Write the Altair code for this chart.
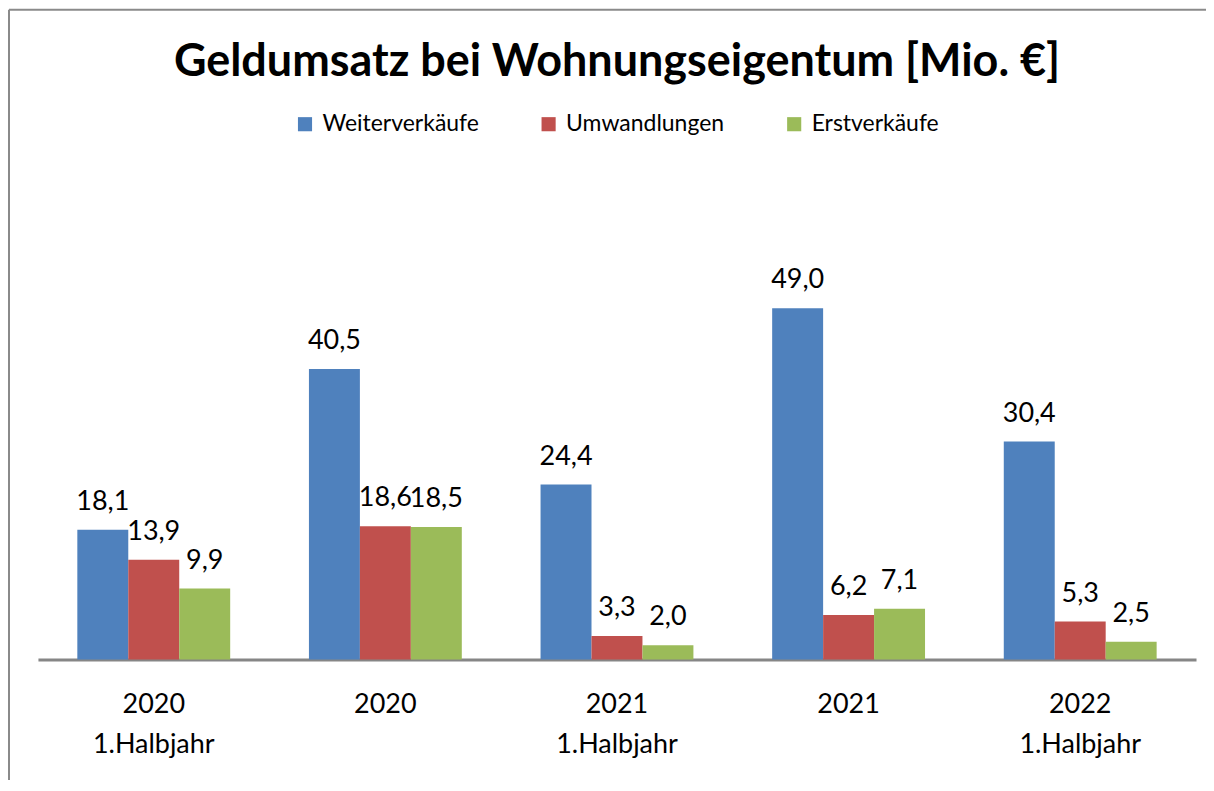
import altair as alt
import pandas as pd

categories = ["2020\n1.Halbjahr", "2020", "2021\n1.Halbjahr", "2021", "2022\n1.Halbjahr"]
series = ["Weiterverkäufe", "Umwandlungen", "Erstverkäufe"]
weiter = [18.1, 40.5, 24.4, 49.0, 30.4]
umwand = [13.9, 18.6, 3.3, 6.2, 5.3]
erst = [9.9, 18.5, 2.0, 7.1, 2.5]
colors = ["#4F81BD", "#C0504D", "#9BBB59"]

rows = []
for s, vals in zip(series, [weiter, umwand, erst]):
    for c, v in zip(categories, vals):
        rows.append({"cat": c, "serie": s, "wert": v,
                     "label": f"{v:.1f}".replace(".", ",")})
df = pd.DataFrame(rows)

FONT = "Lato"

base = alt.Chart(df).encode(
    x=alt.X("cat:N", sort=categories, title=None,
            scale=alt.Scale(paddingInner=0.34, paddingOuter=0.17),
            axis=alt.Axis(labelExpr="split(datum.label, '\\n')", labelAngle=0,
                          labelFontSize=27, labelLineHeight=40, labelPadding=32,
                          labelColor="#000000", labelFont=FONT,
                          domainColor="#868686", domainWidth=3, ticks=False)),
    xOffset=alt.XOffset("serie:N", sort=series),
)

bars = base.mark_bar().encode(
    y=alt.Y("wert:Q", scale=alt.Scale(domain=[0, 60]), axis=None),
    color=alt.Color("serie:N", sort=series,
                    scale=alt.Scale(domain=series, range=colors),
                    legend=alt.Legend(title=None, orient="none", direction="horizontal",
                                      legendX=256, legendY=-117,
                                      symbolType="square", symbolSize=200,
                                      symbolStrokeWidth=0, labelFontSize=23,
                                      labelFont=FONT, labelColor="#000000",
                                      labelOffset=6, columnPadding=58)),
)

texts = base.mark_text(baseline="alphabetic", dy=-20, fontSize=27, font=FONT,
                       color="#000000").encode(
    y=alt.Y("wert:Q"),
    text="label:N",
)

one = pd.DataFrame({"a": [0]})
border_top = alt.Chart(one).mark_rule(color="#8a8a8a", strokeWidth=2).encode(
    x=alt.value(-29), x2=alt.value(1300), y=alt.value(-220))
border_left = alt.Chart(one).mark_rule(color="#8a8a8a", strokeWidth=2).encode(
    x=alt.value(-29), y=alt.value(-220), y2=alt.value(700))

chart = alt.layer(bars, texts, border_top, border_left).properties(
    width=1160, height=431,
    title=alt.TitleParams("Geldumsatz bei Wohnungseigentum [Mio. €]",
                          fontSize=45, font=FONT, fontWeight="bold",
                          color="#000000", offset=-76, anchor="middle"),
    autosize=alt.AutoSizeParams(type="none"),
    padding={"left": 30, "top": 221, "right": 10, "bottom": 120},
).configure_view(stroke=None)

chart.save("out.html", embed_options={"renderer": "svg", "actions": False})
